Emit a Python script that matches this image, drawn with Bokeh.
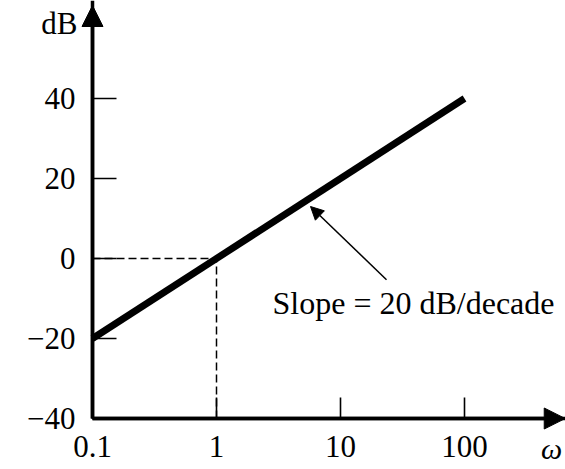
from bokeh.plotting import figure
from bokeh.models import FixedTicker, Range1d, Arrow, NormalHead, Label
from bokeh.embed import file_html
from bokeh.resources import INLINE

# ---- data ----
omega = [0.1, 100]
gain_db = [-20, 40]
x_ticks = [0.1, 1, 10, 100]
x_tick_labels = ["0.1", "1", "10", "100"]
y_ticks = [-40, -20, 0, 20, 40]
y_tick_labels = ["\u221240", "\u221220", "0", "20", "40"]
ref_h_x = [0.1, 1]
ref_h_y = [0, 0]
ref_v_x = [1, 1]
ref_v_y = [-40, 0]
note_text = "Slope = 20 dB/decade"
note_tip = (5.73, 13.0)
note_tail = (23.5, -5.3)
note_pos = (2.83, -11.0)

FONT = "Liberation Serif"
W, H = 565, 469
# layout in pixels: y axis at x=92, x axis at y=418, one decade = 124 px, 20 dB = 80 px
X0, Y0, DEC, PX_DB = 92, 418, 124.0, 4.0
x_lo = 10 ** (-1 - X0 / DEC)
x_hi = 10 ** (-1 + (W - X0) / DEC)
y_lo = -40 - (H - Y0) / PX_DB
y_hi = -40 + Y0 / PX_DB

p = figure(width=W, height=H, x_axis_type="log",
           x_range=Range1d(x_lo, x_hi), y_range=Range1d(y_lo, y_hi),
           output_backend="svg", toolbar_location=None,
           min_border=0)
p.outline_line_color = None
p.grid.visible = False
p.background_fill_color = "white"

for ax in (p.xaxis[0], p.yaxis[0]):
    ax.axis_line_width = 3.5
    ax.axis_line_color = "black"
    ax.major_tick_line_width = 1.6
    ax.major_tick_line_color = "black"
    ax.major_tick_out = 0
    ax.minor_tick_line_color = None
    ax.major_label_text_font = FONT
    ax.major_label_text_font_size = "31px"
    ax.major_label_text_color = "black"

p.xaxis.fixed_location = -40
p.yaxis.fixed_location = 0.1
p.xaxis.bounds = (0.1, x_hi)
p.yaxis.bounds = (-40, y_hi)

p.xaxis.ticker = FixedTicker(ticks=x_ticks)
p.xaxis.major_label_overrides = {t: l for t, l in zip(x_ticks, x_tick_labels)}
p.xaxis.major_tick_in = 21
p.xaxis.major_label_standoff = 17

p.yaxis.ticker = FixedTicker(ticks=y_ticks)
p.yaxis.major_label_overrides = {t: l for t, l in zip(y_ticks, y_tick_labels)}
p.yaxis.major_tick_in = 24
p.yaxis.major_label_standoff = 17

# axis arrow heads
p.add_layout(Arrow(end=NormalHead(size=21, fill_color="black", line_color="black"),
                   x_start=0.1, y_start=-40, x_end=0.1, y_end=-40 + (Y0 - 5) / PX_DB,
                   line_width=3.5, line_color="black"))
p.add_layout(Arrow(end=NormalHead(size=21, fill_color="black", line_color="black"),
                   x_start=0.1, y_start=-40, x_end=x_hi * 0.995, y_end=-40,
                   line_width=3.5, line_color="black"))

# reference dashed lines
p.line(ref_h_x, ref_h_y, line_color="black", line_width=1.5, line_dash="8 4")
p.line(ref_v_x, ref_v_y, line_color="black", line_width=1.5, line_dash="8 4")

# asymptote
p.line(omega, gain_db, line_color="black", line_width=7, line_cap="butt")

# annotation arrow
p.add_layout(Arrow(end=NormalHead(size=13, fill_color="black", line_color="black"),
                   x_start=note_tail[0], y_start=note_tail[1],
                   x_end=note_tip[0], y_end=note_tip[1],
                   line_width=1.5, line_color="black"))
p.add_layout(Label(x=note_pos[0], y=note_pos[1], text=note_text,
                   text_font=FONT, text_font_size="32px", text_color="black",
                   text_baseline="middle", text_align="left"))

# axis names
p.add_layout(Label(x=0.0756, y=58.75, text="dB", text_font=FONT, text_color="black",
                   text_font_size="31px", text_baseline="middle", text_align="right"))
p.add_layout(Label(x=505, y=-47.5, text="\u03c9", text_font=FONT, text_color="black",
                   text_font_style="italic", text_font_size="30px",
                   text_baseline="middle", text_align="center"))

open("out.html", "w").write(file_html(p, INLINE))
